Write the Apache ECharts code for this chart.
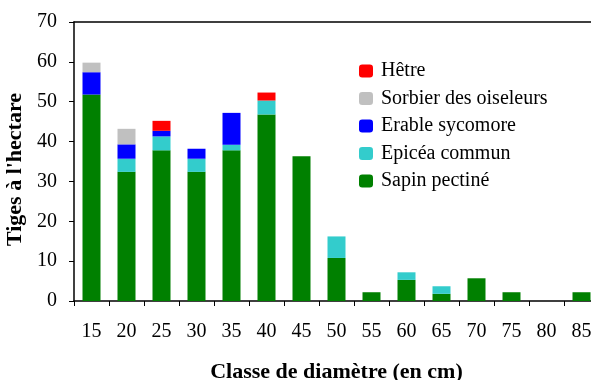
<!DOCTYPE html>
<html>
<head>
<meta charset="utf-8">
<script src="https://cdn.jsdelivr.net/npm/echarts@6/dist/echarts.min.js"></script>
<style>
  html, body { margin: 0; padding: 0; background: #fff; }
  #chart { width: 591px; height: 380px; }
</style>
</head>
<body>
<div id="chart"></div>
<script>
// classes de diamètre (cm)
const classes = ['15', '20', '25', '30', '35', '40', '45', '50', '55', '60', '65', '70', '75', '80', '85'];

// tiges à l'hectare par essence
const sapin   = [51.8, 32.4, 37.8, 32.4, 37.8, 46.8, 36.3, 10.8, 2.2, 5.3, 1.8, 5.7, 2.2, 0, 2.2];
const epicea  = [0, 3.3, 3.5, 3.3, 1.4, 3.5, 0, 5.4, 0, 1.9, 1.9, 0, 0, 0, 0];
const erable  = [5.6, 3.6, 1.4, 2.5, 8.0, 0, 0, 0, 0, 0, 0, 0, 0, 0, 0];
const sorbier = [2.4, 3.9, 0, 0, 0, 0, 0, 0, 0, 0, 0, 0, 0, 0, 0];
const hetre   = [0, 0, 2.5, 0, 0, 2.0, 0, 0, 0, 0, 0, 0, 0, 0, 0];

const yTicks = [0, 10, 20, 30, 40, 50, 60, 70];

const serif = 'Liberation Serif';

const chart = echarts.init(document.getElementById('chart'));

function stackSeries(name, data, color) {
  return {
    name: name,
    type: 'bar',
    stack: 'total',
    data: data,
    barWidth: 18,
    itemStyle: { color: color },
    emphasis: { disabled: true }
  };
}

const option = {
  animation: false,
  backgroundColor: '#fff',
  textStyle: { fontFamily: serif },
  grid: {
    left: 74,
    top: 22,
    right: -8,
    bottom: 79,
    outerBoundsMode: 'none',
    containLabel: false
  },
  legend: {
    orient: 'vertical',
    left: 354,
    top: 56,
    itemWidth: 14,
    itemHeight: 13,
    itemGap: 7.5,
    data: ['Hêtre', 'Sorbier des oiseleurs', 'Erable sycomore', 'Epicéa commun', 'Sapin pectiné'],
    textStyle: { fontFamily: serif, fontSize: 20, color: '#000', padding: [0, 0, 0, 3] }
  },
  xAxis: [{
    type: 'category',
    data: classes,
    name: 'Classe de diamètre (en cm)',
    nameLocation: 'middle',
    nameGap: 60,
    nameTextStyle: { fontFamily: serif, fontSize: 22, fontWeight: 'bold', color: '#000' },
    axisLine: { lineStyle: { color: '#000', width: 1.5 } },
    axisTick: { show: true, length: 5, lineStyle: { color: '#000' } },
    axisLabel: { fontFamily: serif, fontSize: 20, color: '#000', margin: 21, interval: 0 }
  }, {
    // ligne du cadre en haut
    type: 'category',
    position: 'top',
    data: classes,
    axisLine: { show: true, lineStyle: { color: '#000', width: 1.5 } },
    axisTick: { show: false },
    axisLabel: { show: false }
  }],
  yAxis: {
    type: 'value',
    min: yTicks[0],
    max: yTicks[yTicks.length - 1],
    interval: 10,
    name: "Tiges à l'hectare",
    nameLocation: 'middle',
    nameGap: 44,
    nameTextStyle: { fontFamily: serif, fontSize: 22, fontWeight: 'bold', color: '#000', padding: [0, 16, 0, 0] },
    axisLine: { show: true, lineStyle: { color: '#000', width: 1.5 } },
    axisTick: { show: true, length: 5, lineStyle: { color: '#000' } },
    axisLabel: { fontFamily: serif, fontSize: 20, color: '#000', margin: 17 },
    splitLine: { show: false }
  },
  series: [
    stackSeries('Sapin pectiné', sapin, '#008000'),
    stackSeries('Epicéa commun', epicea, '#33CCCC'),
    stackSeries('Erable sycomore', erable, '#0000FF'),
    stackSeries('Sorbier des oiseleurs', sorbier, '#C0C0C0'),
    stackSeries('Hêtre', hetre, '#FF0000')
  ]
};

chart.setOption(option);
</script>
</body>
</html>
